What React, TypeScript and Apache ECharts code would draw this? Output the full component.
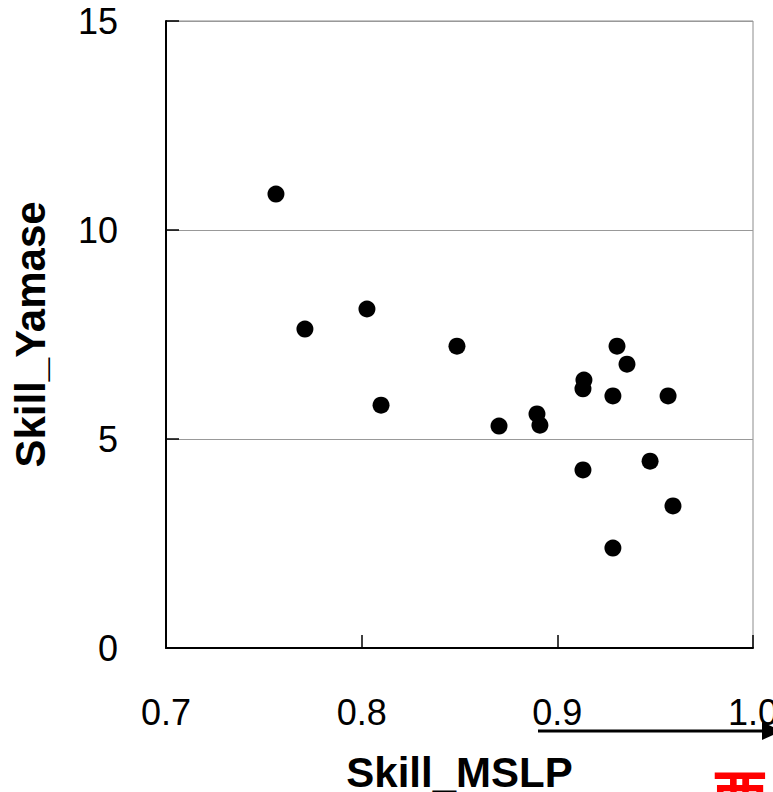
import React, { useEffect, useRef } from "react";
import * as echarts from "echarts";

const skillMSLP = [0.7562, 0.771, 0.8027, 0.8099, 0.8487, 0.8702, 0.8896, 0.8911, 0.9131, 0.9136, 0.9131, 0.9284, 0.9305, 0.9356, 0.9284, 0.9566, 0.9474, 0.9591];
const skillYamase = [10.86, 7.63, 8.11, 5.81, 7.22, 5.31, 5.6, 5.33, 6.2, 6.41, 4.26, 6.03, 7.22, 6.79, 2.39, 6.03, 4.47, 3.4];
const xTicks = [0.7, 0.8, 0.9, 1.0];
const yTicks = [0, 5, 10, 15];
const xTitle = "Skill_MSLP";
const yTitle = "Skill_Yamase";
const cornerMark = "西";

const FONT = "'Liberation Sans', Arial, sans-serif";

export default function App() {
  const ref = useRef<HTMLDivElement>(null);
  useEffect(() => {
    const chart = echarts.init(ref.current!, null, { renderer: "svg" });
    const points = skillMSLP.map((x, i) => [x, skillYamase[i]]);
    chart.setOption({
      animation: false,
      backgroundColor: "#ffffff",
      grid: {
        left: 166,
        right: 20,
        top: 21,
        bottom: 144,
        containLabel: false,
        outerBoundsMode: "none",
        show: true,
        borderColor: "#8c8c8c",
        borderWidth: 1,
      },
      xAxis: {
        type: "value",
        min: xTicks[0],
        max: xTicks[xTicks.length - 1],
        interval: 0.1,
        name: xTitle,
        nameLocation: "middle",
        nameGap: 103,
        nameTextStyle: { fontFamily: FONT, fontSize: 42, fontWeight: "bold", color: "#000" },
        axisLine: { show: true, lineStyle: { color: "#000", width: 2 } },
        axisTick: { show: true, inside: true, length: 13, lineStyle: { color: "#000", width: 1.5 } },
        axisLabel: {
          margin: 46,
          fontFamily: FONT,
          fontSize: 36,
          color: "#000",
          formatter: (v: number) => v.toFixed(1),
        },
        splitLine: { show: false },
      },
      yAxis: {
        type: "value",
        min: yTicks[0],
        max: yTicks[yTicks.length - 1],
        interval: 5,
        name: yTitle,
        nameLocation: "middle",
        nameGap: 115,
        nameRotate: 90,
        nameTextStyle: { fontFamily: FONT, fontSize: 42, fontWeight: "bold", color: "#000" },
        axisLine: { show: true, lineStyle: { color: "#000", width: 2 } },
        axisTick: { show: true, inside: true, length: 13, lineStyle: { color: "#000", width: 1.5 } },
        axisLabel: { margin: 48, fontFamily: FONT, fontSize: 36, color: "#000" },
        splitLine: { show: true, lineStyle: { color: "#999999", width: 1 } },
      },
      series: [
        {
          type: "scatter",
          data: points,
          symbol: "circle",
          symbolSize: 17,
          itemStyle: { color: "#000", opacity: 1 },
        },
      ],
      graphic: [
        {
          type: "line",
          shape: { x1: 538, y1: 731, x2: 764, y2: 731 },
          style: { stroke: "#000", lineWidth: 3 },
        },
        {
          type: "polygon",
          shape: { points: [[762, 722], [782, 731], [762, 740]] },
          style: { fill: "#000" },
        },
        {
          type: "text",
          left: 712,
          top: 764,
          style: {
            text: cornerMark,
            fontSize: 56,
            fontWeight: "bold",
            fontFamily: "'Noto Sans CJK JP', sans-serif",
            fill: "#ff0000",
          },
        },
      ],
    });
    return () => chart.dispose();
  }, []);
  return (
    <div
      ref={ref}
      style={{ position: "fixed", left: 0, top: 0, width: 773, height: 792, overflow: "hidden" }}
    />
  );
}
